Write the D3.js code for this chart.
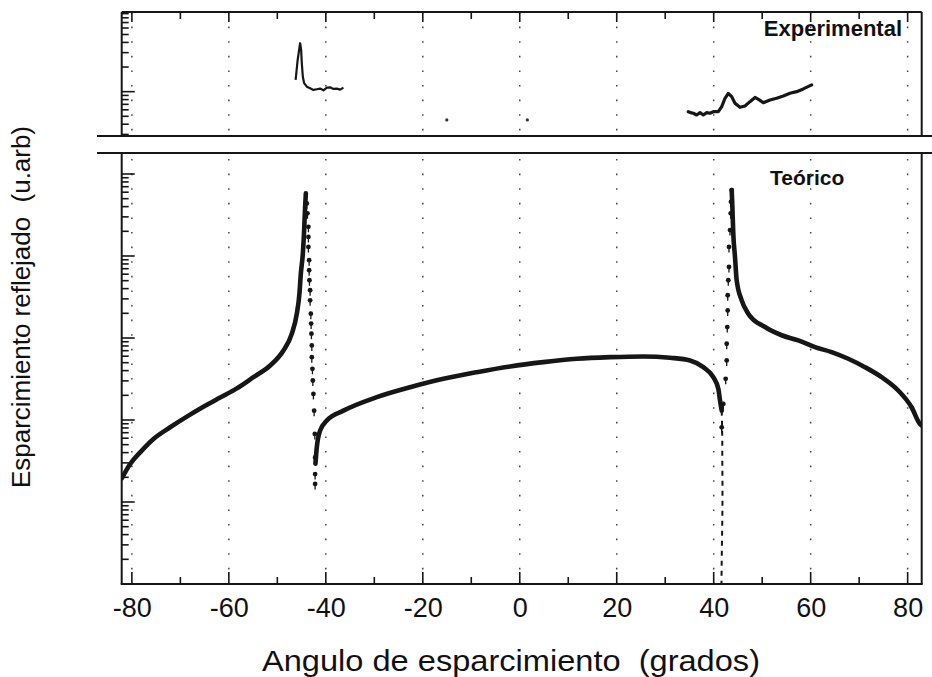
<!DOCTYPE html>
<html><head><meta charset="utf-8">
<script src="https://cdn.jsdelivr.net/npm/d3@7"></script>
<style>
body{margin:0;background:#fff}
svg{display:block}
text{font-family:"Liberation Sans", Arial, sans-serif;fill:#111}
</style>
</head><body>
<svg id="chart" width="932" height="677"></svg>
<script>
// ---------- DATA (angle in degrees, intensity in arbitrary units, log axis) ----------
// Theoretical curve: left solid branch
const teoLeftX = [-82.06, -80.35, -78.29, -75.55, -72.11, -68.66, -65.24, -61.79, -58.35, -54.93, -51.48, -48.74, -47.01, -45.98, -45.44, -45.15, -44.74, -44.47, -44.27, -44.12];
const teoLeftY = [19.5, 29.1, 40.3, 58.7, 81.5, 110, 145, 188, 243, 333, 462, 705, 1130, 1980, 3480, 6110, 10700, 20700, 39800, 58100];
// Theoretical: sparse points falling after the left peak
const teoDipLX = [-43.92, -43.79, -43.59, -43.59, -43.59, -43.44, -43.44, -43.38, -43.24, -43.24, -43.09, -43.03, -42.97, -42.89, -42.89, -42.76, -42.68, -42.56, -42.41, -42.27, -42.21, -42.21, -42.21];
const teoDipLY = [43800, 33100, 22700, 17100, 12900, 8890, 6700, 5060, 3820, 2880, 1980, 1500, 1130, 812, 584, 421, 303, 208, 130, 67.6, 35.0, 21.9, 16.6];
// Theoretical: middle solid branch
const teoMidX = [-42.14, -41.86, -41.18, -39.79, -36.37, -29.48, -22.62, -15.75, -8.87, -2.00, 4.87, 11.75, 18.62, 25.48, 30.99, 35.11, 37.86, 39.92, 40.95, 41.30, 41.65];
const teoMidY = [29.3, 46.4, 74.2, 98.4, 130, 190, 251, 318, 383, 450, 508, 558, 584, 596, 574, 532, 441, 333, 240, 173, 130];
// Theoretical: dashed drop near +42 deg
const teoDipRX = [41.65, 41.71, 41.77, 41.77, 41.81, 41.81, 41.77, 41.71, 41.65, 41.61, 41.58];
const teoDipRY = [130, 98.4, 56.0, 31.9, 18.2, 10.3, 5.89, 3.36, 1.91, 1.09, 0.8];
// Theoretical: sparse points rising to the right peak
const teoRiseRX = [41.65, 41.98, 42.47, 42.68, 42.68, 42.80, 42.89, 42.89, 43.01, 43.15, 43.15, 43.36, 43.51, 43.57, 43.71];
const teoRiseRY = [81.5, 157, 318, 532, 851, 1360, 2170, 3320, 5060, 7360, 12900, 20700, 33100, 45800, 63700];
// Theoretical: right solid branch
const teoRightX = [43.71, 43.84, 44.04, 44.39, 44.74, 45.77, 47.13, 50.58, 54.02, 57.44, 60.89, 64.33, 67.75, 71.20, 74.64, 78.06, 80.82, 82.54, 82.95];
const teoRightY = [63700, 41800, 18800, 9750, 5060, 2880, 1980, 1360, 1080, 935, 774, 673, 558, 441, 333, 229, 143, 89.6, 85.5];

// Experimental curve (top panel)
const expLX = [-46.23, -46.02, -45.81, -45.51, -45.30, -45.09, -44.95, -44.74, -44.47, -43.92, -43.24, -42.56, -41.86, -41.18, -40.49, -39.79, -39.11, -38.43, -37.73, -37.05, -36.37];
const expLY = [13.9, 18.4, 24.4, 32.4, 39.1, 32.4, 22.2, 15.2, 12.7, 11.5, 11.0, 10.5, 10.7, 10.9, 10.4, 11.2, 11.3, 10.8, 10.9, 10.6, 11.2];
const expRX = [34.76, 35.45, 35.79, 36.49, 37.18, 37.86, 38.56, 39.24, 39.92, 40.95, 41.65, 42.33, 43.01, 43.71, 44.39, 45.42, 46.45, 47.48, 48.52, 49.40, 50.23, 51.61, 52.99, 54.35, 55.73, 57.11, 58.47, 60.21];
const expRY = [5.69, 5.50, 5.45, 5.19, 5.54, 5.19, 5.54, 5.45, 5.69, 5.69, 6.56, 8.30, 9.51, 8.69, 7.21, 6.44, 6.68, 7.55, 8.49, 7.92, 7.34, 7.92, 8.30, 8.86, 9.56, 10.0, 10.8, 12.1];
const expDotsX = [-15.05, 1.57];
const expDotsY = [4.51, 4.51];

// Axis ticks / labels
const xMajorTicks = [-80, -60, -40, -20, 0, 20, 40, 60, 80];
const xMinorTicks = [-70, -50, -30, -10, 10, 30, 50, 70];
const xLabel = "Angulo de esparcimiento  (grados)";
const yLabel = "Esparcimiento reflejado  (u.arb)";
const labelTop = "Experimental";
const labelBottom = "Teórico";

// ---------- LAYOUT ----------
const L = 121.7, R = 921.7;
const topT = 12, topB = 136, botT = 153, botB = 584;
const ink = "#161616";

const svg = d3.select("#chart");
const x = d3.scaleLinear().domain([-82.1, 82.9]).range([L, R]);
const yT = d3.scaleLog().domain([2.87, 94.2]).range([topB, topT]);
const yB = d3.scaleLog().domain([1, 180300]).range([botB, botT]);

const zip = (a, b) => a.map((v, i) => [v, b[i]]);

const defs = svg.append("defs");
defs.append("clipPath").attr("id", "clipT").append("rect")
  .attr("x", L).attr("y", topT).attr("width", R - L).attr("height", topB - topT);
defs.append("clipPath").attr("id", "clipB").append("rect")
  .attr("x", L).attr("y", botT).attr("width", R - L).attr("height", botB - botT);

// ---------- GRID (dotted verticals) ----------
const grid = svg.append("g");
xMajorTicks.forEach(t => {
  grid.append("line").attr("x1", x(t)).attr("x2", x(t)).attr("y1", topT).attr("y2", topB)
    .attr("stroke", "#444").attr("stroke-width", 1.5).attr("stroke-dasharray", "1.6 13");
  grid.append("line").attr("x1", x(t)).attr("x2", x(t)).attr("y1", botT).attr("y2", botB)
    .attr("stroke", "#444").attr("stroke-width", 1.5).attr("stroke-dasharray", "1.6 13")
    .attr("stroke-dashoffset", -6);
});

// ---------- TICKS ----------
const tk = svg.append("g").attr("stroke", ink).attr("stroke-width", 1.6);
xMajorTicks.forEach(t => tk.append("line").attr("x1", x(t)).attr("x2", x(t)).attr("y1", botB).attr("y2", botB - 12));
xMinorTicks.forEach(t => tk.append("line").attr("x1", x(t)).attr("x2", x(t)).attr("y1", botB).attr("y2", botB - 7));
xMajorTicks.forEach(t => tk.append("line").attr("x1", x(t)).attr("x2", x(t)).attr("y1", topT).attr("y2", topT + 10));
xMinorTicks.forEach(t => tk.append("line").attr("x1", x(t)).attr("x2", x(t)).attr("y1", topT).attr("y2", topT + 7));
const isDecade = v => Math.abs(Math.log10(v) - Math.round(Math.log10(v))) < 1e-9;
yB.ticks().forEach(v => {
  const yy = yB(v);
  if (yy < botT + 1 || yy > botB - 1) return;
  tk.append("line").attr("x1", L).attr("x2", L + (isDecade(v) ? 13 : 7)).attr("y1", yy).attr("y2", yy);
});
yT.ticks().forEach(v => {
  const yy = yT(v);
  if (yy < topT + 1 || yy > topB - 1) return;
  tk.append("line").attr("x1", L).attr("x2", L + (isDecade(v) ? 13 : 7)).attr("y1", yy).attr("y2", yy);
});

const xAxis = d3.axisBottom(x).tickValues(xMajorTicks).tickSize(0).tickPadding(14).tickFormat(d => String(d));
const gx = svg.append("g").attr("transform", `translate(0,${botB})`).call(xAxis);
gx.select(".domain").remove();
gx.selectAll("text").attr("font-size", 27).attr("fill", ink).style("font-family", '"Liberation Sans", Arial, sans-serif');

// ---------- FRAMES ----------
const fr = svg.append("g").attr("stroke", ink).attr("stroke-width", 2).attr("fill", "none");
fr.append("line").attr("x1", L).attr("x2", R).attr("y1", topT).attr("y2", topT);
fr.append("line").attr("x1", L).attr("x2", L).attr("y1", topT).attr("y2", topB);
fr.append("line").attr("x1", R).attr("x2", R).attr("y1", topT).attr("y2", topB);
fr.append("line").attr("x1", 97).attr("x2", 932).attr("y1", topB).attr("y2", topB);
fr.append("line").attr("x1", 97).attr("x2", 932).attr("y1", botT).attr("y2", botT);
fr.append("line").attr("x1", L).attr("x2", L).attr("y1", botT).attr("y2", botB);
fr.append("line").attr("x1", R).attr("x2", R).attr("y1", botT).attr("y2", botB);
fr.append("line").attr("x1", L - 1).attr("x2", R + 1).attr("y1", botB).attr("y2", botB);

// ---------- THEORETICAL ----------
const gB = svg.append("g").attr("clip-path", "url(#clipB)");
const lineB = d3.line().x(d => x(d[0])).y(d => yB(d[1])).curve(d3.curveMonotoneX);
[zip(teoLeftX, teoLeftY), zip(teoMidX, teoMidY), zip(teoRightX, teoRightY)].forEach(arr => {
  gB.append("path").attr("d", lineB(arr)).attr("fill", "none").attr("stroke", ink)
    .attr("stroke-width", 4.6).attr("stroke-linecap", "round").attr("stroke-linejoin", "round");
});
const lineLin = d3.line().x(d => x(d[0])).y(d => yB(d[1]));
gB.append("path").attr("d", lineLin(zip(teoDipRX, teoDipRY))).attr("fill", "none")
  .attr("stroke", ink).attr("stroke-width", 2).attr("stroke-dasharray", "5 5");
function markers(xs, ys, stemDir) {
  zip(xs, ys).forEach(d => {
    const cx = x(d[0]), cy = yB(d[1]);
    gB.append("circle").attr("cx", cx).attr("cy", cy).attr("r", 2.4).attr("fill", ink);
    gB.append("line").attr("x1", cx).attr("x2", cx).attr("y1", cy).attr("y2", cy + stemDir * 5.5)
      .attr("stroke", ink).attr("stroke-width", 1.3);
  });
}
markers(teoDipLX, teoDipLY, 1);
markers(teoRiseRX, teoRiseRY, 1);

// ---------- EXPERIMENTAL ----------
const gT = svg.append("g").attr("clip-path", "url(#clipT)");
const lineT = d3.line().x(d => x(d[0])).y(d => yT(d[1]));
gT.append("path").attr("d", lineT(zip(expLX, expLY))).attr("fill", "none").attr("stroke", ink)
  .attr("stroke-width", 2.2).attr("stroke-linejoin", "round");
gT.append("path").attr("d", lineT(zip(expRX, expRY))).attr("fill", "none").attr("stroke", ink)
  .attr("stroke-width", 3.2).attr("stroke-linejoin", "round").attr("stroke-linecap", "round");
zip(expDotsX, expDotsY).forEach(d => gT.append("circle").attr("cx", x(d[0])).attr("cy", yT(d[1])).attr("r", 1.6).attr("fill", "#333"));

// ---------- TEXT ----------
svg.append("text").attr("x", 902).attr("y", 36).attr("text-anchor", "end")
  .attr("font-size", 22).attr("font-weight", "bold").text(labelTop);
svg.append("text").attr("x", 770).attr("y", 185)
  .attr("font-size", 21).attr("font-weight", "bold").text(labelBottom);
svg.append("text").attr("x", 511).attr("y", 671).attr("text-anchor", "middle")
  .attr("font-size", 30).attr("textLength", 498).attr("lengthAdjust", "spacingAndGlyphs")
  .style("white-space", "pre").text(xLabel);
svg.append("text").attr("transform", "translate(30,307) rotate(-90)").attr("text-anchor", "middle")
  .attr("font-size", 25).attr("textLength", 362).attr("lengthAdjust", "spacingAndGlyphs")
  .style("white-space", "pre").text(yLabel);
</script>
</body></html>
